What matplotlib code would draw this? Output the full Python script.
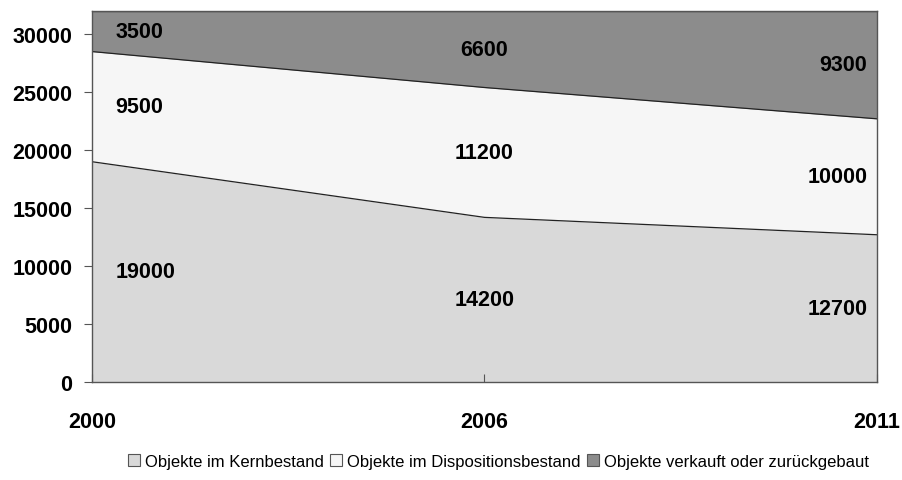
import matplotlib.pyplot as plt
import numpy as np
from matplotlib.patches import Patch

# Objektbestand je Jahr
jahre = ['2000', '2006', '2011']
kernbestand = [19000, 14200, 12700]
dispositionsbestand = [9500, 11200, 10000]
verkauft = [3500, 6600, 9300]

namen = ['Objekte im Kernbestand', 'Objekte im Dispositionsbestand',
         'Objekte verkauft oder zurückgebaut']
farben = ['#d9d9d9', '#f6f6f6', '#8c8c8c']

plt.rcParams['font.family'] = ['Liberation Sans', 'DejaVu Sans']

fig = plt.figure(figsize=(9.03, 4.81), dpi=100)
ax = fig.add_axes([92/903, 1 - 383/481, 785/903, 371/481])

x = np.arange(len(jahre))
serien = [np.array(kernbestand), np.array(dispositionsbestand), np.array(verkauft)]
unten = np.zeros(len(jahre))
for werte, farbe in zip(serien, farben):
    oben = unten + werte
    ax.fill_between(x, unten, oben, color=farbe, linewidth=0)
    ax.plot(x, oben, color='#222222', linewidth=0.9)
    # Werte in der Mitte des jeweiligen Bandes
    mitte = unten + werte / 2
    for i in range(len(x)):
        if i == 0:
            ha, dx = 'left', 17
        elif i == len(x) - 1:
            ha, dx = 'right', -7
        else:
            ha, dx = 'center', 0
        ax.annotate(str(werte[i]), (x[i], mitte[i]), xytext=(dx, 0),
                    textcoords='offset points', ha=ha, va='center',
                    fontsize=15.5, fontweight='bold')
    unten = oben

ax.set_xlim(0, len(jahre) - 1)
ax.set_ylim(0, 32000)
ax.set_xticks(x)
ax.set_xticklabels(jahre, fontsize=15.5, fontweight='bold')
ax.set_yticks(np.arange(0, 30001, 5000))
ax.tick_params(axis='y', labelsize=15.5, length=6, pad=8, color='#555555')
ax.tick_params(axis='x', length=6, direction='in', pad=21, color='#555555')
for lbl in ax.get_yticklabels():
    lbl.set_fontweight('bold')
for s in ax.spines.values():
    s.set_color('#555555')
    s.set_linewidth(1.0)

handles = [Patch(facecolor=f, edgecolor='#555555', linewidth=0.8) for f in farben]
fig.legend(handles, namen, loc='center', bbox_to_anchor=(0.552, 1 - 462/481),
           ncol=3, frameon=False, fontsize=12, handlelength=0.7,
           handleheight=0.7, handletextpad=0.3, columnspacing=0.4)

fig.savefig('out.png', dpi=100)
